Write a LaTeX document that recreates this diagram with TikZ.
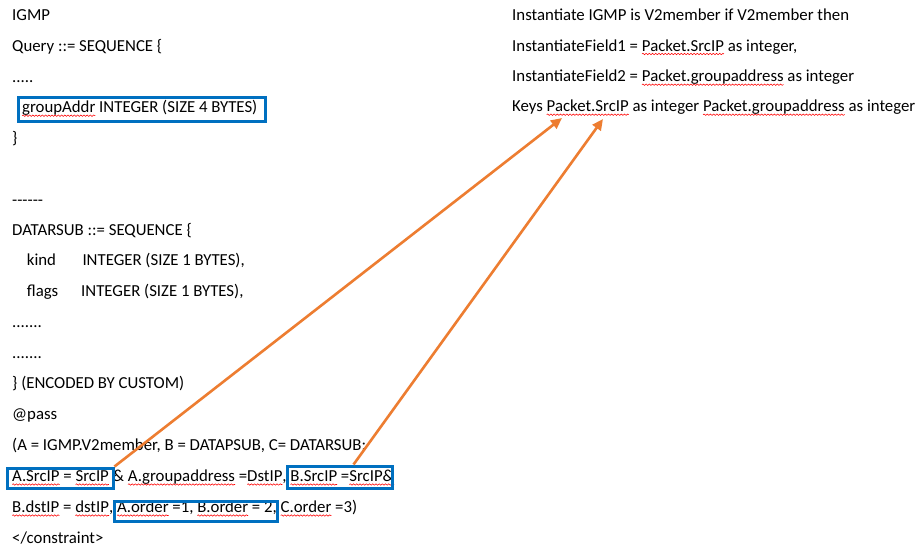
\documentclass[tikz,border=0pt]{standalone}
\usepackage{fontspec}
\setmainfont{Carlito}
\usetikzlibrary{arrows.meta,calc,decorations.pathmorphing}
\definecolor{wblue}{HTML}{0070C0}
\definecolor{worange}{HTML}{ED7D31}
\newcommand\sq[1]{\tikz[baseline=(sqw.base)]{\node[inner sep=0pt,outer sep=0pt,anchor=base west](sqw){#1};\draw[overlay, red, line width=0.55pt, decorate, decoration={snake,amplitude=0.7pt,segment length=3.2pt}] ([yshift=-3pt]sqw.base west) -- ([yshift=-3pt]sqw.base east);}}
\tikzset{
  txt/.style={anchor=base west, inner sep=0pt, font=\fontsize{16.8pt}{19pt}\selectfont, text=black},
  bluebox/.style={draw=wblue, line width=3pt, rectangle, inner sep=0pt, anchor=north west},
  link/.style={draw=worange, line width=2.6pt, -{Triangle[length=11pt,width=10pt]}}
}
\begin{document}
\begin{tikzpicture}[x=1pt,y=-1pt]
\fill[white] (0,0) rectangle (919,546);
\useasboundingbox (0,0) rectangle (919,546);
% left column
\node[txt] (l0) at (12,20.7) {IGMP};
\node[txt] (l1) at (12,51.5) {Query ::= SEQUENCE \{};
\node[txt] (l2) at (12,82) {.....};
\node[txt] (l3) at (22,112.7) {\sq{groupAddr} INTEGER (SIZE 4 BYTES)};
\node[txt] (l4) at (12,143.5) {\}};
\node[txt] (l6) at (12,205) {-\kern0pt-\kern0pt-\kern0pt-\kern0pt-\kern0pt-};
\node[txt] (l7) at (12,235) {DATARSUB ::= SEQUENCE \{};
\node[txt] (l8a) at (26.7,265.5) {kind};
\node[txt] (l8b) at (82.3,265.5) {INTEGER (SIZE 1 BYTES),};
\node[txt] (l9a) at (26.7,296.5) {flags};
\node[txt] (l9b) at (81,296.5) {INTEGER (SIZE 1 BYTES),};
\node[txt] (l10) at (12,327.3) {.......};
\node[txt] (l11) at (12,358) {.......};
\node[txt] (l12) at (12,388.5) {\} (ENCODED BY CUSTOM)};
\node[txt] (l13) at (12,419.2) {@pass};
\node[txt] (l14) at (12,450) {(A = IGMP.V2member, B = DATAPSUB, C= DATARSUB;};
\node[txt] (l15) at (12,481.5) {\sq{A.SrcIP} = \sq{SrcIP} \& \sq{A.groupaddress} =\sq{DstIP}, \sq{B.SrcIP} =\sq{SrcIP\&}};
\node[txt] (l16) at (12,512.5) {\sq{B.dstIP} = \sq{dstIP}, \sq{A.order} =1, \sq{B.order} = 2, \sq{C.order} =3)};
\node[txt] (l17) at (12,543) {</constraint>};
% right column
\node[txt] (r0) at (512,20.7) {Instantiate IGMP is V2member if V2member then};
\node[txt] (r1) at (512,51) {InstantiateField1 = \sq{Packet.SrcIP} as integer,};
\node[txt] (r2) at (512,81.7) {InstantiateField2 = \sq{Packet.groupaddress} as integer};
\node[txt] (r3) at (512,111.7) {Keys \sq{Packet.SrcIP} as integer \sq{Packet.groupaddress} as integer};
% boxes
\node[bluebox, minimum width=247pt, minimum height=24pt] (b1) at (16.5,95.5) {};
\node[bluebox, minimum width=106pt, minimum height=20pt] (b2) at (5.5,466.5) {};
\node[bluebox, minimum width=105pt, minimum height=22pt] (b3) at (285.5,464.5) {};
\node[bluebox, minimum width=163pt, minimum height=20pt] (b4) at (112.5,499.5) {};
% arrow targets
\coordinate (t1) at (562,118);
\coordinate (t2) at (603,119);
\draw[link] (b2.north east) -- (t1);
\draw[link] ($(b3.north west)!0.63!(b3.north east)$) -- (t2);
\end{tikzpicture}
\end{document}
